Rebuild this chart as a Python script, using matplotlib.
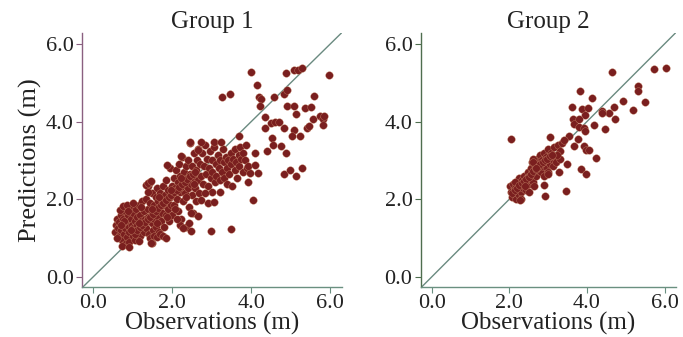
import matplotlib.pyplot as plt

plt.rcParams['font.family'] = ['Liberation Serif', 'DejaVu Serif']

# Group 1 observations / predictions (m)
g1_obs = [0.55, 0.58, 0.60, 0.62, 0.65, 0.66, 0.70, 0.70, 0.72, 0.75, 0.76, 0.78, 0.80, 0.80, 0.82, 0.85, 0.86, 0.88, 0.90, 0.90,
          0.92, 0.95, 0.95, 0.98, 1.00, 1.00, 1.02, 1.05, 1.05, 1.08, 1.10, 1.10, 1.12, 1.15, 1.18, 1.20, 1.20, 1.22, 1.25, 1.28,
          1.30, 1.30, 0.68, 0.75, 0.85, 1.00, 0.60, 0.74, 0.92, 1.15,
          1.32, 1.35, 1.35, 1.38, 1.40, 1.40, 1.42, 1.45, 1.45, 1.48, 1.50, 1.50, 1.52, 1.55, 1.55, 1.58, 1.60, 1.60, 1.62, 1.65,
          1.65, 1.68, 1.70, 1.70, 1.72, 1.75, 1.75, 1.78, 1.80, 1.80, 1.82, 1.85, 1.85, 1.88, 1.90, 1.90, 1.92, 1.95, 1.95, 1.98,
          2.00, 2.00, 1.45, 1.55, 1.62, 1.70, 1.78, 1.85, 1.50, 1.42, 1.35,
          2.02, 2.05, 2.05, 2.08, 2.10, 2.12, 2.15, 2.15, 2.18, 2.20, 2.20, 2.22, 2.25, 2.25, 2.28, 2.30, 2.30, 2.32, 2.35, 2.35,
          2.38, 2.40, 2.40, 2.42, 2.45, 2.45, 2.48, 2.50, 2.50, 2.52, 2.55, 2.55, 2.58, 2.60, 2.60, 2.62, 2.65, 2.65, 2.68, 2.70,
          2.20, 2.28, 2.42, 2.48, 2.12,
          2.72, 2.75, 2.78, 2.80, 2.82, 2.85, 2.88, 2.90, 2.92, 2.95, 2.98, 3.00, 3.02, 3.05, 3.08, 3.10, 3.12, 3.15, 3.18, 3.20,
          3.22, 3.25, 3.28, 3.30, 3.32, 3.35, 3.38, 3.40, 3.42, 3.45, 3.48, 3.50, 3.52, 3.55, 3.58, 3.60, 3.62, 3.65, 3.68, 3.70,
          3.72, 3.75, 3.78, 3.80, 3.85, 3.88, 3.90, 3.00, 3.20, 2.90,
          3.99, 4.14, 3.26, 3.46, 4.20, 4.24, 4.22, 4.87, 5.08, 5.18, 5.28, 5.96, 4.84, 4.90, 4.58, 5.58, 4.90, 5.08, 5.14, 5.37,
          5.51, 4.35, 4.35, 4.50, 4.60, 4.70, 4.84, 5.09, 5.42, 5.47, 5.55, 5.75, 5.81, 5.83, 5.81, 5.03, 5.24, 4.53, 4.56, 4.39,
          4.75, 4.87, 4.84, 4.99, 5.14, 5.28, 4.05, 4.18, 3.97, 3.50, 2.99, 3.07, 3.92, 3.92, 4.09, 4.09, 3.68,
          1.38, 1.46, 1.88, 2.22, 2.44, 2.73, 3.07, 3.24, 2.65, 2.48, 2.65, 2.73, 2.82, 1.46,
          1.05, 1.12, 1.18, 1.25, 1.32, 1.38, 1.45, 1.52, 1.58, 1.65, 1.72, 1.78, 1.85, 1.92, 1.98, 2.05, 2.12, 2.18, 2.25, 2.32,
          2.38, 2.45, 2.52, 2.58, 0.88, 0.95, 1.22, 1.40, 1.62, 1.88, 2.08, 2.35, 0.78, 0.70, 1.15, 1.48, 1.68, 1.98, 2.22, 2.55]
g1_pred = [1.15, 1.35, 1.50, 1.25, 1.05, 1.42, 1.60, 1.20, 0.95, 1.35, 1.50, 1.10, 0.85, 1.70, 1.25, 1.45, 1.02, 1.60, 1.30, 0.90,
           1.15, 1.50, 1.80, 1.35, 1.05, 1.65, 1.25, 1.45, 0.95, 1.75, 1.15, 1.55, 1.35, 1.85, 1.05, 1.60, 1.25, 1.45, 1.95, 1.15,
           1.70, 1.35, 1.72, 1.82, 1.85, 1.90, 1.00, 0.80, 0.78, 0.92,
           1.50, 2.00, 1.25, 1.75, 2.35, 1.55, 1.10, 1.90, 2.45, 1.40, 1.65, 2.15, 1.20, 1.85, 1.50, 2.05, 1.70, 1.30, 2.30, 1.95,
           1.55, 1.15, 1.80, 2.15, 1.45, 2.00, 1.65, 2.35, 1.85, 1.30, 2.10, 1.60, 2.50, 1.95, 2.25, 1.75, 1.45, 2.05, 2.80, 1.85,
           2.35, 1.60, 1.00, 1.05, 1.02, 1.10, 1.05, 1.00, 0.88, 2.42, 2.38,
           2.10, 2.55, 1.85, 2.30, 2.75, 2.00, 2.45, 1.70, 2.90, 2.20, 2.60, 1.50, 2.35, 3.10, 1.95, 2.70, 2.45, 2.15, 2.85, 1.30,
           2.55, 2.30, 3.00, 1.80, 2.65, 3.45, 2.40, 2.85, 2.10, 1.65, 2.55, 3.20, 2.30, 2.75, 1.95, 3.00, 2.50, 3.30, 2.15, 2.90,
           1.35, 1.25, 1.40, 1.18, 1.50,
           2.60, 3.20, 2.40, 2.85, 3.40, 2.65, 3.05, 2.35, 2.80, 3.25, 2.55, 3.00, 2.70, 3.35, 2.45, 2.90, 2.60, 3.15, 2.80, 2.50,
           3.00, 2.70, 3.30, 2.95, 2.55, 3.10, 2.80, 2.40, 3.00, 2.65, 3.20, 2.90, 2.35, 3.05, 2.75, 3.30, 2.95, 2.55, 3.15, 2.85,
           3.35, 3.05, 2.70, 3.20, 3.00, 3.40, 2.80, 2.20, 2.20, 1.90,
           5.27, 4.94, 4.64, 4.72, 4.64, 4.57, 4.41, 5.24, 5.32, 5.32, 5.39, 5.20, 4.72, 4.82, 4.64, 4.65, 4.39, 4.41, 4.19, 4.34,
           4.37, 4.12, 3.84, 3.97, 3.98, 3.98, 3.84, 3.79, 3.84, 3.88, 4.07, 4.14, 4.07, 4.14, 3.90, 3.64, 3.62, 3.58, 3.40, 3.24,
           3.36, 3.19, 2.64, 2.76, 2.59, 2.81, 1.99, 2.68, 2.68, 1.24, 1.19, 1.92, 2.44, 2.85, 2.89, 3.18, 3.62,
           2.42, 2.46, 2.89, 3.11, 3.47, 3.47, 3.47, 3.47, 3.28, 1.65, 1.56, 1.99, 2.16, 0.88,
           1.10, 1.20, 1.30, 1.35, 1.42, 1.50, 1.55, 1.62, 1.70, 1.78, 1.85, 1.90, 1.98, 2.05, 2.12, 2.18, 2.25, 2.32, 2.40, 2.45,
           2.52, 2.60, 2.65, 2.70, 1.70, 1.20, 1.80, 2.20, 1.40, 1.55, 1.75, 2.05, 1.45, 1.35, 1.40, 1.75, 2.05, 2.25, 2.55, 2.40]

# Group 2
g2_obs = [2.02, 2.05, 2.08, 2.10, 2.12, 2.15, 2.18, 2.20, 2.22, 2.25, 2.25, 2.28, 2.30, 2.32, 2.35, 2.38, 2.40, 2.42, 2.45, 2.48,
          2.50, 2.52, 2.55, 2.55, 2.58, 2.60, 2.62, 2.65, 2.68, 2.70, 2.72, 2.75, 2.78, 2.80, 2.82, 2.85, 2.88, 2.90, 2.92, 2.95,
          2.98, 3.00, 3.02, 3.05, 3.08, 3.10, 3.12, 3.15, 3.18, 3.20, 3.25, 3.30, 2.60, 2.62, 2.50, 2.30, 2.15, 2.65, 2.90, 3.00,
          3.35, 3.30,
          2.04, 4.65, 5.73, 6.04, 5.31, 5.31, 5.50, 4.92, 5.19, 4.70, 4.56, 4.73, 4.39, 4.39, 4.46, 4.18, 4.23, 4.12, 3.82, 3.62,
          3.88, 4.02, 3.96, 3.65, 3.67, 3.79, 3.79, 3.92, 3.96, 3.77, 3.68, 3.92, 3.99, 4.06, 3.85, 3.99, 3.48, 3.46, 2.92, 3.04,
          3.29, 3.24, 3.54, 3.41, 2.90, 3.00, 2.27,
          2.08, 2.14, 2.20, 2.26, 2.32, 2.38, 2.44, 2.50, 2.56, 2.62, 2.68, 2.74, 2.80, 2.86, 2.92, 2.98, 3.04, 3.10, 2.40, 2.70]
g2_pred = [2.35, 2.20, 2.05, 2.40, 2.15, 2.30, 2.00, 2.45, 2.25, 2.10, 2.55, 2.35, 2.20, 2.50, 2.30, 2.60, 2.45, 2.25, 2.55, 2.70,
           2.40, 2.60, 2.80, 2.50, 2.95, 2.65, 2.45, 2.75, 2.90, 2.60, 3.05, 2.75, 2.90, 3.15, 2.70, 3.00, 2.85, 3.20, 2.95, 3.10,
           2.80, 3.30, 3.00, 2.90, 3.20, 3.05, 2.85, 3.35, 3.10, 2.95, 3.40, 3.25, 3.05, 2.95, 2.20, 2.00, 2.45, 2.35, 2.60, 2.70,
           3.45, 3.05,
           3.55, 5.27, 5.36, 5.38, 4.91, 4.78, 4.50, 4.52, 4.31, 4.38, 4.21, 4.08, 4.27, 4.21, 3.81, 3.90, 3.07, 4.61, 4.78, 4.38,
           4.33, 4.35, 4.18, 4.07, 3.95, 4.07, 3.85, 3.83, 3.75, 3.55, 3.38, 3.36, 3.28, 3.28, 2.79, 2.66, 2.91, 2.21, 2.08, 3.60,
           2.70, 3.15, 3.62, 3.52, 2.38, 2.64, 1.99,
           2.15, 2.25, 2.30, 2.38, 2.42, 2.48, 2.52, 2.58, 2.65, 2.72, 2.78, 2.82, 2.92, 2.95, 3.02, 3.05, 3.12, 3.15, 2.35, 2.80]

ticks = [0.0, 2.0, 4.0, 6.0]
tick_labels = ['0.0', '2.0', '4.0', '6.0']

fig = plt.figure(figsize=(6.83, 3.37), dpi=100)
ax1 = fig.add_axes([0.120, 0.148, 0.381, 0.754])
ax2 = fig.add_axes([0.616, 0.148, 0.374, 0.754])

panels = [(ax1, g1_obs, g1_pred, 'Group 1', '#8a6080'),
          (ax2, g2_obs, g2_pred, 'Group 2', '#4f6e4f')]

for ax, xs, ys, title, left_col in panels:
    ax.set_xlim(-0.28, 6.3)
    ax.set_ylim(-0.26, 6.28)
    # 1:1 line
    ax.plot([-0.28, 6.3], [-0.28, 6.3], color='#6a8a80', lw=1.0, zorder=1)
    ax.scatter(xs, ys, s=30, color='#7a1f1f', edgecolors='#c98a6a', linewidths=0.25, zorder=2)
    ax.spines['top'].set_visible(False)
    ax.spines['right'].set_visible(False)
    ax.spines['left'].set_color(left_col)
    ax.spines['bottom'].set_color('#6a9080')
    ax.spines['left'].set_linewidth(1.0)
    ax.spines['bottom'].set_linewidth(1.0)
    ax.set_xticks(ticks)
    ax.set_xticklabels(tick_labels)
    ax.set_yticks(ticks)
    ax.set_yticklabels(tick_labels)
    ax.tick_params(axis='y', colors=left_col, labelcolor='#222222', labelsize=16, length=4, pad=2)
    ax.tick_params(axis='x', colors='#6a9080', labelcolor='#222222', labelsize=16, length=4, pad=1)
    ax.set_title(title, fontsize=18, color='#222222', pad=3)
    ax.set_xlabel('Observations (m)', fontsize=18, color='#222222', labelpad=-1)

ax1.set_ylabel('Predictions (m)', fontsize=19, color='#222222', labelpad=3)

fig.savefig('out.png', dpi=100, facecolor='white')
